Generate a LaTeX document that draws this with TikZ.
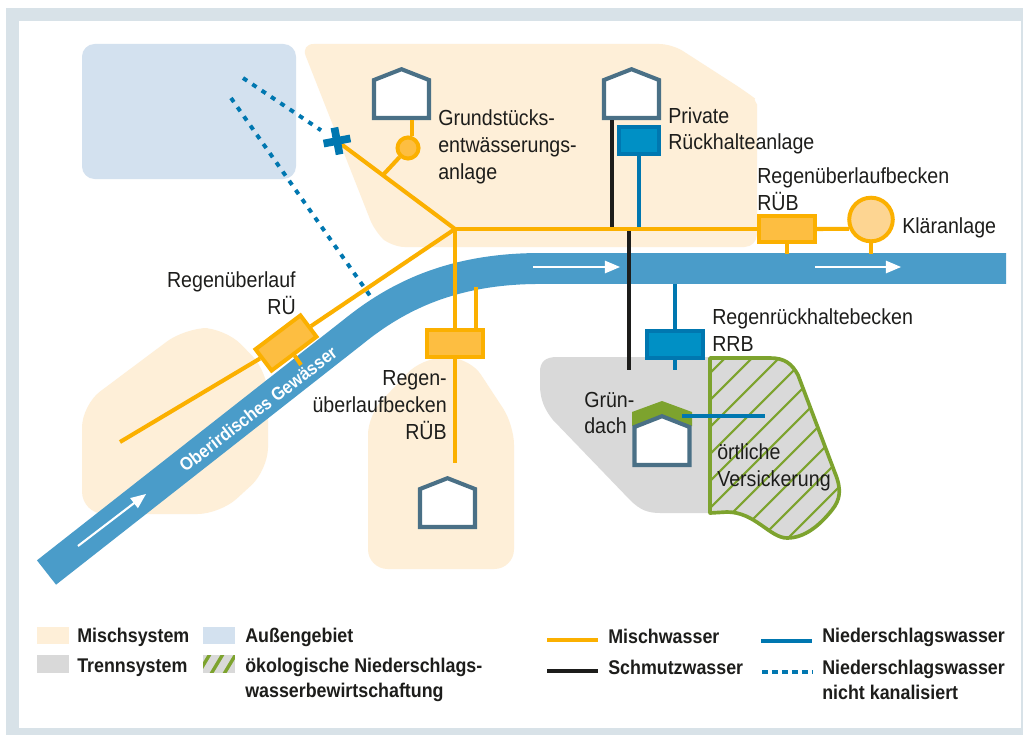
\documentclass[tikz,border=0pt]{standalone}
\usepackage{fontspec}
\setmainfont[FakeStretch=0.9]{Liberation Sans}
\usetikzlibrary{arrows, positioning}
\definecolor{mischfl}{HTML}{FEEFD8}
\definecolor{aussenfl}{HTML}{D3E1EF}
\definecolor{trennfl}{HTML}{D9D9D9}
\definecolor{rahmen}{HTML}{D8E2E8}
\definecolor{fluss}{HTML}{4A9CC9}
\definecolor{orangel}{HTML}{FBB000}
\definecolor{orangef}{HTML}{FDBE41}
\definecolor{klaerf}{HTML}{FDD592}
\definecolor{blaul}{HTML}{0077B0}
\definecolor{blauf}{HTML}{0090C5}
\definecolor{gruen}{HTML}{7DA32E}
\definecolor{hausl}{HTML}{4A7086}
\definecolor{schwarz}{HTML}{1D1D1B}
\tikzset{
>=triangle 45, % white arrows on the river
misch/.style={line width=2.9pt, draw=orangel},
schmutz/.style={line width=2.9pt, draw=schwarz},
regen/.style={line width=2.6pt, draw=blaul},
regenpkt/.style={line width=2.8pt, draw=blaul, dash pattern=on 3.5pt off 4.5pt},
fliess/.style={->, line width=1.5pt, white},
orangebox/.style={draw=orangel, fill=orangef, line width=2.8pt, minimum width=40pt, minimum height=19pt, inner sep=0pt},
blaubox/.style={draw=blaul, fill=blauf, line width=2.8pt, minimum width=40pt, minimum height=19pt, inner sep=0pt},
haus/.style={rectangle, minimum width=42pt, minimum height=37.7pt, inner sep=0pt,
  path picture={\draw[draw=hausl, fill=white, line width=2.9pt, shift={(path picture bounding box.center)}]
    (-27.5,24.5) -- (27.5,24.5) -- (27.5,-13.5) -- (0,-24.3) -- (-27.5,-13.5) -- cycle;}},
txt/.style={font=\fontsize{15.5}{19}\selectfont, text=schwarz, inner sep=0pt, align=left},
leg/.style={font=\fontsize{14.1}{18}\bfseries\selectfont, text=schwarz, inner sep=0pt, align=left, anchor=west},
feld/.style={minimum width=22.7pt, minimum height=12.3pt, inner sep=0pt},
}
\begin{document}
\begin{tikzpicture}[x=0.025cm, y=-0.025cm]
      \useasboundingbox (0,0) rectangle (1023,735);
      % frame
      \fill[rahmen] (6,8) rectangle (1023,735);
      \fill[white] (19,21) rectangle (1021,728);

      % areas
      \fill[aussenfl, rounded corners=9pt] (82,44) rectangle (296,179);
      \fill[mischfl, rounded corners=9pt] (301,44) -- (672,44) -- (745,91) .. controls (753,97) and (757,105) .. (757,117) -- (757,247) -- (392,247) -- (375,232) -- cycle;
      \fill[mischfl, rounded corners=16pt] (82,514) -- (82,405) -- (185,328) -- (225,328) -- (268,372) -- (268,470) -- (220,514) -- cycle;
      \fill[mischfl, rounded corners=14pt] (368,569) -- (368,415) -- (422,358) -- (470,358) -- (514,425) -- (514,569) -- cycle;
      \fill[trennfl] (712,357) -- (557,357) .. controls (545,357) and (540,362) .. (540,372) -- (540,385) .. controls (540,400) and (545,410) .. (553,420) -- (630,500) .. controls (640,510) and (648,513) .. (660,513) -- (712,513) -- cycle;

      % hatched infiltration area
      \begin{scope}
        \clip (710,358) -- (770,358) .. controls (785,358) and (792,364) .. (798,375) -- (835,473) .. controls (842,490) and (840,500) .. (832,510) .. controls (820,525) and (805,538) .. (787,538) .. controls (770,538) and (755,512) .. (727,512) -- (710,513) -- cycle;
        \fill[trennfl] (700,350) rectangle (850,545);
        \foreach \c in {1083,1110,...,1400} {
          \draw[gruen, line width=1.5pt] (\c-700,700) -- (\c-300,300);
        }
      \end{scope}
      \draw[gruen, line width=2.6pt, line join=round] (710,358) -- (770,358) .. controls (785,358) and (792,364) .. (798,375) -- (835,473) .. controls (842,490) and (840,500) .. (832,510) .. controls (820,525) and (805,538) .. (787,538) .. controls (770,538) and (755,512) .. (727,512) -- (710,513) -- cycle;

      % river
      \draw[fluss, line width=22pt] (46.5,572.5) -- (353,332) .. controls (395,298) and (450,268.5) .. (540,268.5) -- (1006,268.5);
      \node[font=\fontsize{13}{15}\bfseries\selectfont, text=white, rotate=37.5, inner sep=0pt] (gew) at (258,409) {Oberirdisches Gewässer};
      \coordinate (f1a) at (78,546);
      \coordinate (f1b) at (146,494);
      \coordinate (f2a) at (533,267);
      \coordinate (f2b) at (620,267);
      \coordinate (f3a) at (815,267);
      \coordinate (f3b) at (901,267);
      \draw[fliess] (f1a) -- (f1b);
      \draw[fliess] (f2a) -- (f2b);
      \draw[fliess] (f3a) -- (f3b);

      % nodes
      \coordinate (J) at (455,229);
      \coordinate (abzw) at (383,175);
      \coordinate (endrue) at (120,442);
      \coordinate (endrub) at (455,463);
      \coordinate (ruestub) at (301,365);
      \coordinate (ss1) at (612,229);
      \coordinate (ss2) at (629,229);
      \coordinate (rg1) at (639,229);
      \coordinate (ende2) at (629,370);
      \coordinate (rrbo) at (675,284);
      \coordinate (rrbu) at (675,370);
      \coordinate (rub2s) at (476,287);
      \coordinate (dot1) at (243,78);
      \coordinate (dot2) at (231,98);
      \coordinate (dot2e) at (373,300);
      \coordinate (versa) at (682,416);
      \coordinate (verse) at (765,416);
      \coordinate (ufer1) at (787,254);
      \coordinate (ufer2) at (871,254);

      \fill[gruen] (632,426) -- (632,412) -- (662,401) -- (692,412) -- (692,426) -- cycle;
      \node[haus] (h1) at (401.5,93.5) {};
      \node[haus] (h2) at (631.5,93.5) {};
      \node[haus] (h3) at (447.5,502.5) {};
      \node[haus] (h4) at (662,440.5) {};
      \node[circle, draw=orangel, fill=orangef, line width=2.8pt, minimum size=15pt, inner sep=0pt] (hka) at (408,148) {};
      \node[circle, draw=orangel, fill=klaerf, line width=2.8pt, minimum size=31pt, inner sep=0pt] (kla) at (871,219.5) {};
      \node[orangebox] (rub) at (787,229) {};
      \node[orangebox] (rub2) at (455,343.5) {};
      \node[orangebox, rotate=37] (rue) at (286,343) {};
      \node[blaubox, minimum width=28.5pt] (prv) at (639,140.5) {};
      \node[blaubox] (rrb) at (675,344.5) {};
      \node[rotate=11, minimum size=19pt, inner sep=0pt] (kreuz) at (337,141) {};

      % connectors
      \draw[regenpkt] (dot1) -- (kreuz);
      \draw[regenpkt] (dot2) -- (dot2e);
      \draw[schmutz] (ss1) -- (ss1 |- h2.south);
      \draw[schmutz] (ss2) -- (ende2);
      \draw[regen] (rg1) -- (prv);
      \draw[regen] (rrbo) -- (rrb);
      \draw[regen] (rrb) -- (rrbu);
      \draw[regen] (versa) -- (verse);
      \draw[misch] (J) -- (rub);
      \draw[misch] (J) -- (kreuz.center);
      \draw[misch] (J) -- (rue);
      \draw[misch] (rue) -- (endrue);
      \draw[misch] (rue) -- (ruestub);
      \draw[misch] (J) -- (rub2);
      \draw[misch] (rub2) -- (endrub);
      \draw[misch] (rub2s) -- (rub2s |- rub2.north);
      \draw[misch] (abzw) -- (hka);
      \draw[misch] (hka.70) -- (hka.70 |- h1.south);
      \draw[misch] (rub.east) -- (kla.203);
      \draw[misch] (rub) -- (rub |- ufer1);
      \draw[misch] (kla) -- (ufer2);
      \draw[blaul, line width=5.5pt] (kreuz.north) -- (kreuz.south) (kreuz.east) -- (kreuz.west);

      % labels
      \node[txt, anchor=west] (lgrund) at (438,147) {Grundstücks-\\entwässerungs-\\anlage};
      \node[txt, anchor=west] (lprivat) at (668,131) {Private\\Rückhalteanlage};
      \node[txt, anchor=west] (lrub) at (757,189) {Regenüberlaufbecken\\RÜB};
      \node[txt, anchor=west] (lkla) at (902,227.5) {Kläranlage};
      \node[txt, anchor=east, align=right] (lrue) at (296,293) {Regenüberlauf\\RÜ};
      \node[txt, anchor=east, align=right] (lrub2) at (447,405) {Regen-\\überlaufbecken\\RÜB};
      \node[txt, anchor=west] (lrrb) at (712,330) {Regenrückhaltebecken\\RRB};
      \node[txt, anchor=west] (lgruen) at (584,413) {Grün-\\dach};
      \node[txt, anchor=west] (lvers) at (717,467) {örtliche\\Versickerung};

      % legend
      \node[feld, fill=mischfl] (k1) at (53,635.5) {};
      \node[feld, fill=trennfl] (k2) at (53,664) {};
      \node[feld, fill=aussenfl] (k3) at (219,635.5) {};
      \node[feld, fill=trennfl, path picture={
        \foreach \s in {-28,-15,-2,11,24} {
          \draw[gruen, line width=2.4pt] (\s-6,10) -- (\s+6,-10);
        }}] (k4) at (219,664) {};
      \node[leg] (t1) at (77,637) {Mischsystem};
      \node[leg] (t2) at (77,668) {Trennsystem};
      \node[leg] (t3) at (245,637) {Außengebiet};
      \node[leg] (t4) at (245,680) {ökologische Niederschlags-\\wasserbewirtschaftung};
      \coordinate (l1a) at (547,640);
      \coordinate (l1b) at (598,640);
      \coordinate (l2a) at (547,671);
      \coordinate (l2b) at (598,671);
      \coordinate (l3a) at (761,641);
      \coordinate (l3b) at (812,641);
      \coordinate (l4a) at (762,672);
      \coordinate (l4b) at (812,672);
      \draw[misch, line width=3.5pt] (l1a) -- (l1b);
      \draw[schmutz, line width=3.5pt] (l2a) -- (l2b);
      \draw[regen, line width=3.5pt] (l3a) -- (l3b);
      \draw[regen, line width=3.5pt, dash pattern=on 4.2pt off 2.9pt] (l4a) -- (l4b);
      \node[leg] (t5) at (608,636) {Mischwasser};
      \node[leg] (t6) at (608,667) {Schmutzwasser};
      \node[leg] (t7) at (822,637) {Niederschlagswasser};
      \node[leg] (t8) at (822,680) {Niederschlagswasser\\nicht kanalisiert};
    \end{tikzpicture}
\end{document}
